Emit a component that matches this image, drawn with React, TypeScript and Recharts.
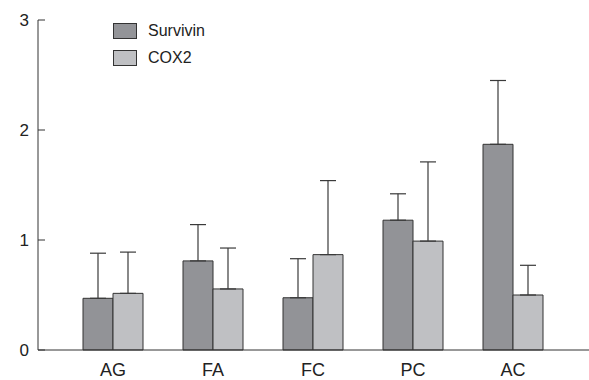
import React from 'react';
import { BarChart, Bar, XAxis, YAxis, ErrorBar, Legend } from 'recharts';

const groups = ['AG', 'FA', 'FC', 'PC', 'AC'];
const survivin = [0.47, 0.81, 0.475, 1.18, 1.87];
const survivinErr = [0.41, 0.33, 0.355, 0.24, 0.58];
const cox2 = [0.515, 0.555, 0.867, 0.99, 0.5];
const cox2Err = [0.375, 0.372, 0.673, 0.72, 0.27];
const yTicks = [0, 1, 2, 3];

const data = groups.map((g, i) => ({
  name: g,
  survivin: survivin[i],
  survivinErr: [0, survivinErr[i]],
  cox2: cox2[i],
  cox2Err: [0, cox2Err[i]],
}));

const legendItems = [
  { label: 'Survivin', color: '#939498' },
  { label: 'COX2', color: '#bfc0c3' },
];

const LegendBox = () => (
  <div style={{ fontFamily: 'Liberation Sans, Arial, sans-serif', fontSize: 16, color: '#222' }}>
    {legendItems.map((it) => (
      <div key={it.label} style={{ display: 'flex', alignItems: 'center', height: 27 }}>
        <span
          style={{
            boxSizing: 'border-box',
            width: 24,
            height: 16,
            background: it.color,
            border: '1px solid #333',
            marginRight: 11,
          }}
        />
        {it.label}
      </div>
    ))}
  </div>
);

export default function App() {
  const font = 'Liberation Sans, Arial, sans-serif';
  return (
    <div style={{ position: 'absolute', left: 0, top: 0, background: '#fff' }}>
      <BarChart
        width={589}
        height={380}
        data={data}
        margin={{ top: 20, right: 0, bottom: 0, left: 0 }}
        barGap={0}
        barSize={30}
      >
        <XAxis
          dataKey="name"
          height={30}
          padding={{ left: 25, right: 26 }}
          tickLine={false}
          axisLine={{ stroke: '#333' }}
          tick={{ fill: '#222', fontSize: 18, fontFamily: font }}
          tickMargin={7}
        />
        <YAxis
          width={38}
          domain={[0, 3]}
          ticks={yTicks}
          tickSize={-7}
          tickMargin={16}
          axisLine={{ stroke: '#333' }}
          tickLine={{ stroke: '#333' }}
          tick={{ fill: '#222', fontSize: 17, fontFamily: font }}
        />
        <Legend
          layout="vertical"
          verticalAlign="middle"
          align="center"
          wrapperStyle={{ left: 113, top: 17, width: 130 }}
          content={<LegendBox />}
        />
        <Bar dataKey="survivin" fill="#929397" stroke="#333" strokeWidth={1} isAnimationActive={false}>
          <ErrorBar dataKey="survivinErr" width={8} stroke="#3a3a3a" strokeWidth={1.2} direction="y" />
        </Bar>
        <Bar dataKey="cox2" fill="#bfc0c3" stroke="#333" strokeWidth={1} isAnimationActive={false}>
          <ErrorBar dataKey="cox2Err" width={8} stroke="#3a3a3a" strokeWidth={1.2} direction="y" />
        </Bar>
      </BarChart>
    </div>
  );
}
